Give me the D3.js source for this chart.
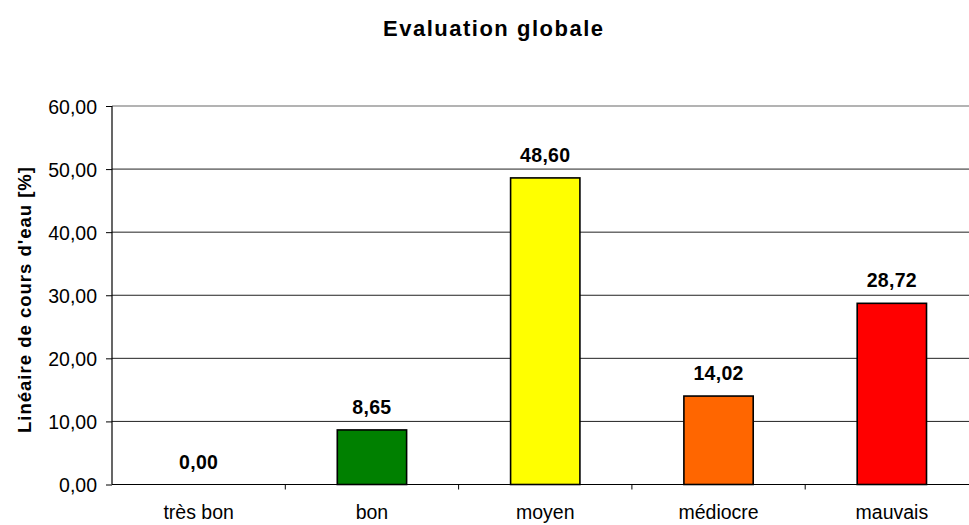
<!DOCTYPE html>
<html>
<head>
<meta charset="utf-8">
<script src="https://cdn.jsdelivr.net/npm/d3@7"></script>
<style>
  html, body { margin: 0; padding: 0; background: #fff; }
  svg { display: block; font-family: Arial, "Liberation Sans", sans-serif; }
</style>
</head>
<body>
<svg id="chart" width="969" height="525"></svg>
<script>
const categories = ["très bon", "bon", "moyen", "médiocre", "mauvais"];
const values = [0.00, 8.65, 48.60, 14.02, 28.72];
const colors = ["#FFFFFF", "#008000", "#FFFF00", "#FF6600", "#FF0000"];
const yTicks = [0, 10, 20, 30, 40, 50, 60];
const title = "Evaluation globale";
const yTitle = "Linéaire de cours d'eau [%]";

const fmt = v => v.toFixed(2).replace(".", ",");

const svg = d3.select("#chart");
const margin = { left: 112, top: 106, right: 978.5, bottom: 484.5 };

const x = d3.scaleBand().domain(categories)
  .range([margin.left, margin.right]).paddingInner(0.6).paddingOuter(0.3);
const y = d3.scaleLinear().domain([0, 60]).range([margin.bottom, margin.top]);

// gridlines
svg.append("g").selectAll("line").data(yTicks.filter(t => t > 0)).join("line")
  .attr("x1", margin.left).attr("x2", margin.right)
  .attr("y1", d => y(d)).attr("y2", d => y(d))
  .attr("stroke", d => d === 60 ? "#9a9a9a" : "#222")
  .attr("stroke-width", d => d === 60 ? 1.6 : 1);

// bars
svg.append("g").selectAll("rect").data(values).join("rect")
  .attr("x", (d, i) => x(categories[i]))
  .attr("width", x.bandwidth())
  .attr("y", d => y(d))
  .attr("height", d => y(0) - y(d))
  .attr("fill", (d, i) => colors[i])
  .attr("stroke", "#000")
  .attr("stroke-width", d => d > 0 ? 1.6 : 0);

// y axis
const yAxis = d3.axisLeft(y).tickValues(yTicks).tickFormat(fmt).tickSize(6).tickPadding(9);
const gy = svg.append("g").attr("transform", `translate(${margin.left},0)`).call(yAxis);
gy.select(".domain").attr("stroke", "#000").attr("stroke-width", 1.2).attr("d", `M0,${margin.top}V${margin.bottom}`);
gy.selectAll(".tick line").attr("stroke", "#000");
gy.selectAll(".tick text").attr("font-size", "19.5px")
  .attr("font-family", "Arial, 'Liberation Sans', sans-serif").attr("fill", "#000").attr("dy", "0.36em");

// x axis
const bandStep = x.step();
const xAxis = d3.axisBottom(x).tickSize(0).tickPadding(20.5);
const gx = svg.append("g").attr("transform", `translate(0,${margin.bottom})`).call(xAxis);
gx.select(".domain").attr("stroke", "#000").attr("stroke-width", 1.2).attr("d", `M${margin.left},0H${margin.right}`);
gx.selectAll(".tick text").attr("font-size", "19.5px")
  .attr("font-family", "Arial, 'Liberation Sans', sans-serif").attr("fill", "#000");
// category separator ticks
svg.append("g").selectAll("line").data(categories.slice(1)).join("line")
  .attr("x1", d => x(d) - (bandStep - x.bandwidth()) / 2)
  .attr("x2", d => x(d) - (bandStep - x.bandwidth()) / 2)
  .attr("y1", margin.bottom).attr("y2", margin.bottom + 5)
  .attr("stroke", "#000");

// value labels
svg.append("g").selectAll("text").data(values).join("text")
  .attr("x", (d, i) => x(categories[i]) + x.bandwidth() / 2)
  .attr("y", d => y(d) - 16)
  .attr("text-anchor", "middle")
  .attr("font-size", "19.5px").attr("font-weight", "bold").attr("letter-spacing", "0.3px")
  .attr("fill", "#000")
  .text(d => fmt(d));

// title
svg.append("text").attr("x", 493).attr("y", 36).attr("text-anchor", "middle")
  .attr("font-size", "22px").attr("font-weight", "bold")
  .attr("textLength", 220).attr("lengthAdjust", "spacing")
  .text(title);

// y title
svg.append("text").attr("transform", "translate(31,300) rotate(-90)")
  .attr("text-anchor", "middle")
  .attr("font-size", "18.5px").attr("font-weight", "bold")
  .attr("textLength", 266).attr("lengthAdjust", "spacing")
  .text(yTitle);
</script>
</body>
</html>
